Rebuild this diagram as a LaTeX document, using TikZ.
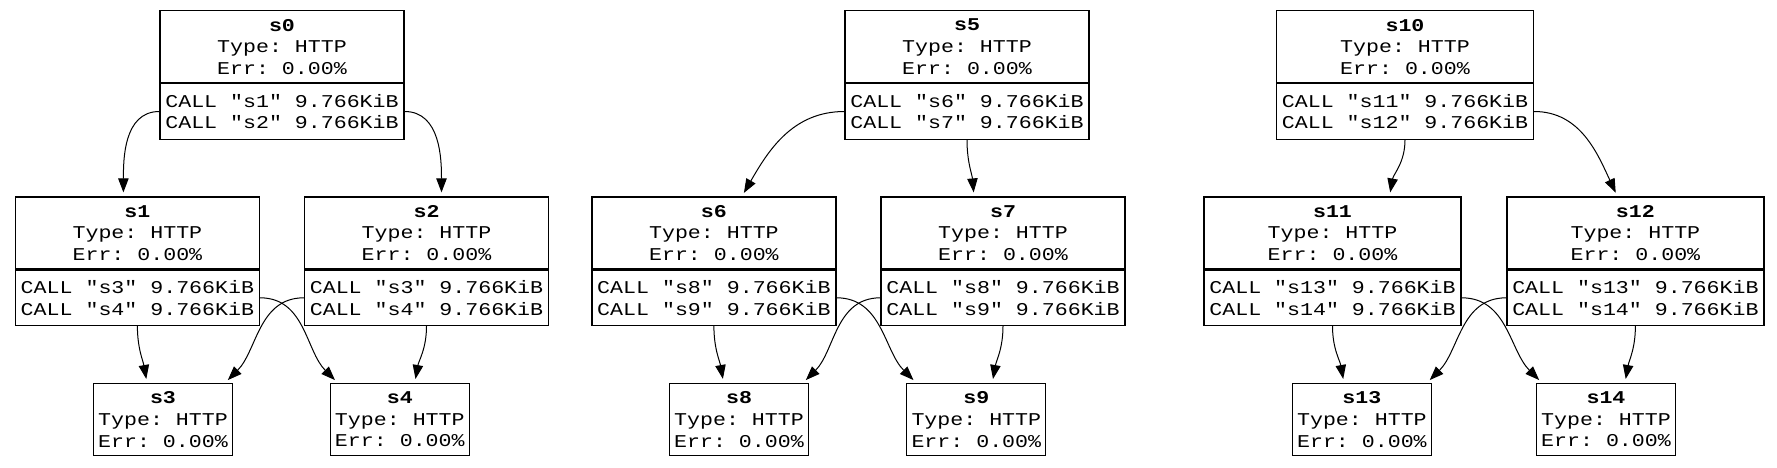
\documentclass[tikz,border=0pt]{standalone}
\usepackage{fontspec}
\setmonofont{Liberation Mono}[FakeStretch=1.2]
\usetikzlibrary{arrows.meta}
\pgfdeclarelayer{bg}
\pgfsetlayers{bg,main}
\tikzset{
    every node/.style={rectangle, draw, line width=.6pt, inner sep=2pt, align=center, font=\ttfamily\fontsize{9}{10.8}\selectfont}
}
\tikzset{head/.style={minimum width=122pt, minimum height=36pt}}
\tikzset{calls/.style={anchor=north, align=left, minimum width=122pt, minimum height=27.6pt}}
\tikzset{wide/.style={minimum width=128.5pt}}
\tikzset{leaf/.style={minimum width=69.5pt, minimum height=36pt}}
\tikzset{call/.style={-{Triangle[length=7pt,width=5.2pt]}, shorten >=2pt, line width=.5pt}}

\begin{document}
\begin{tikzpicture}[x=0.5pt, y=0.5pt]
        \useasboundingbox (0,0) rectangle (1777,467);
        % first tree
        \node (s0) [head] at (282, 420.3) {\textbf{s0}\\Type: HTTP\\Err: 0.00\%};
        \node (s0c) [calls] at (s0.south) {CALL "s1" 9.766KiB\\CALL "s2" 9.766KiB};
        \node (s1) [head] at (137.4, 234) {\textbf{s1}\\Type: HTTP\\Err: 0.00\%};
        \node (s1c) [calls] at (s1.south) {CALL "s3" 9.766KiB\\CALL "s4" 9.766KiB};
        \node (s2) [head] at (426.5, 234) {\textbf{s2}\\Type: HTTP\\Err: 0.00\%};
        \node (s2c) [calls] at (s2.south) {CALL "s3" 9.766KiB\\CALL "s4" 9.766KiB};
        \node (s3) [leaf] at (163, 47.5) {\textbf{s3}\\Type: HTTP\\Err: 0.00\%};
        \node (s4) [leaf] at (399.8, 47.5) {\textbf{s4}\\Type: HTTP\\Err: 0.00\%};
        % second tree
        \node (s5) [head] at (967, 420.3) {\textbf{s5}\\Type: HTTP\\Err: 0.00\%};
        \node (s5c) [calls] at (s5.south) {CALL "s6" 9.766KiB\\CALL "s7" 9.766KiB};
        \node (s6) [head] at (713.9, 234) {\textbf{s6}\\Type: HTTP\\Err: 0.00\%};
        \node (s6c) [calls] at (s6.south) {CALL "s8" 9.766KiB\\CALL "s9" 9.766KiB};
        \node (s7) [head] at (1003, 234) {\textbf{s7}\\Type: HTTP\\Err: 0.00\%};
        \node (s7c) [calls] at (s7.south) {CALL "s8" 9.766KiB\\CALL "s9" 9.766KiB};
        \node (s8) [leaf] at (739, 47.5) {\textbf{s8}\\Type: HTTP\\Err: 0.00\%};
        \node (s9) [leaf] at (976.3, 47.5) {\textbf{s9}\\Type: HTTP\\Err: 0.00\%};
        % third tree
        \node (s10) [head, wide] at (1405, 420.3) {\textbf{s10}\\Type: HTTP\\Err: 0.00\%};
        \node (s10c) [calls, wide] at (s10.south) {CALL "s11" 9.766KiB\\CALL "s12" 9.766KiB};
        \node (s11) [head, wide] at (1332.5, 234) {\textbf{s11}\\Type: HTTP\\Err: 0.00\%};
        \node (s11c) [calls, wide] at (s11.south) {CALL "s13" 9.766KiB\\CALL "s14" 9.766KiB};
        \node (s12) [head, wide] at (1635.4, 234) {\textbf{s12}\\Type: HTTP\\Err: 0.00\%};
        \node (s12c) [calls, wide] at (s12.south) {CALL "s13" 9.766KiB\\CALL "s14" 9.766KiB};
        \node (s13) [leaf] at (1361.9, 47.5) {\textbf{s13}\\Type: HTTP\\Err: 0.00\%};
        \node (s14) [leaf] at (1606, 47.5) {\textbf{s14}\\Type: HTTP\\Err: 0.00\%};
        \begin{pgfonlayer}{bg}
                \draw (s0c.west) edge [call, out=180, in=90] ([xshift=-7pt]s1.north);
                \draw (s0c.east) edge [call, out=0, in=90] ([xshift=7.5pt]s2.north);
                \draw (s1c.south) edge [call, out=-90, in=100] ([xshift=-8pt]s3.north);
                \draw (s1c.east) edge [call, out=0, in=135] ([xshift=-31pt]s4.north);
                \draw (s2c.west) edge [call, out=180, in=45] ([xshift=31pt]s3.north);
                \draw (s2c.south) edge [call, out=-90, in=80] ([xshift=7.5pt]s4.north);
                \draw (s5c.west) edge [call, out=180, in=60] ([xshift=14pt]s6.north);
                \draw (s5c.south) edge [call, out=-90, in=95] ([xshift=-14.5pt]s7.north);
                \draw (s6c.south) edge [call, out=-90, in=100] ([xshift=-7.7pt]s8.north);
                \draw (s6c.east) edge [call, out=0, in=135] ([xshift=-30pt]s9.north);
                \draw (s7c.west) edge [call, out=180, in=45] ([xshift=32pt]s8.north);
                \draw (s7c.south) edge [call, out=-90, in=80] ([xshift=8pt]s9.north);
                \draw (s10c.south) edge [call, out=-90, in=80] ([xshift=28.5pt]s11.north);
                \draw (s10c.east) edge [call, out=0, in=115] ([xshift=-9pt]s12.north);
                \draw (s11c.south) edge [call, out=-90, in=100] ([xshift=-9pt]s13.north);
                \draw (s11c.east) edge [call, out=0, in=135] ([xshift=-32pt]s14.north);
                \draw (s12c.west) edge [call, out=180, in=45] ([xshift=32.5pt]s13.north);
                \draw (s12c.south) edge [call, out=-90, in=80] ([xshift=9.5pt]s14.north);
        \end{pgfonlayer}
\end{tikzpicture}
\end{document}
